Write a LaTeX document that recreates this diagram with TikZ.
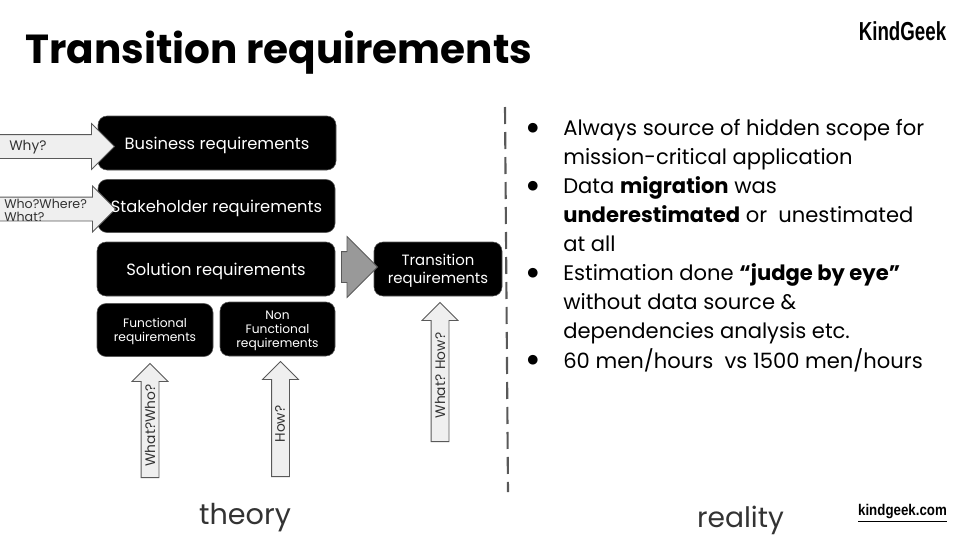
\documentclass[tikz,border=0pt]{standalone}
\usepackage{fontspec}
\setmainfont{Poppins}
\newfontfamily\bulletfont{DejaVu Sans}
\newfontfamily\logofont{Liberation Sans}
\usetikzlibrary{shapes.arrows}
\definecolor{arrowfill}{HTML}{EFEFEF}
\definecolor{arrowline}{HTML}{595959}
\definecolor{hinttext}{HTML}{333333}
\newcommand{\px}{0.025cm}

\begin{document}
\begin{tikzpicture}[
    x=\px, y=-\px,
    reqbox/.style={draw=arrowline, fill=black, rounded corners=9*\px, text=white,
                   align=center, inner sep=0pt, line width=0.4pt},
    boxtext/.style={text=white, align=center, inner sep=0pt},
    hintarrow/.style={single arrow, draw=arrowline, fill=arrowfill, inner xsep=0pt,
                      single arrow head indent=0pt, line width=0.6pt, anchor=tail},
    sidearrow/.style={hintarrow, inner ysep=11.5*\px, single arrow head extend=11*\px},
    uparrow/.style={hintarrow, rotate=90, inner ysep=8.5*\px, single arrow head extend=9*\px},
    hint/.style={text=hinttext, font=\fontsize{9.8}{10}\selectfont, inner sep=0pt},
    point/.style={anchor=north west, align=left, inner sep=0pt,
                  font=\fontsize{15}{20.6}\selectfont},
    dot/.style={font=\bulletfont\fontsize{9}{9}\selectfont, inner sep=0pt}
  ]
  \useasboundingbox (0,0) rectangle (960,540);

  % Title and logos
  \node[anchor=west, inner sep=0pt, font=\fontsize{28.85}{30}\selectfont\bfseries] (title) at (25,52.5) {Transition requirements};
  \node[inner sep=0pt, xscale=0.72, font=\logofont\fontsize{18.5}{20}\selectfont\bfseries] (logotop) at (902.5,31) {KindGeek};
  \node[inner sep=0pt, xscale=0.86, font=\logofont\fontsize{11}{12}\selectfont\bfseries] (logobottom) at (902.5,513) {\underline{kindgeek.com}};

  % Requirement boxes
  \node[reqbox, minimum width=238*\px, minimum height=54*\px] (business) at (217,143) {};
  \node[reqbox, minimum width=237*\px, minimum height=53*\px] (stakeholder) at (216.5,206) {};
  \node[reqbox, minimum width=238*\px, minimum height=54*\px] (solution) at (216,269) {};
  \node[reqbox, minimum width=116*\px, minimum height=53*\px] (functional) at (155,330) {};
  \node[reqbox, minimum width=115*\px, minimum height=54*\px] (nonfunctional) at (277.5,329) {};

  % Side arrows
  \node[sidearrow, minimum height=115*\px] (whyarrow) at (-1,146.5) {};
  \node[sidearrow, minimum height=116*\px] (whoarrow) at (-1,209) {};

  % Box texts
  \node[boxtext, font=\fontsize{11.6}{14}\selectfont] (businesstext) at (217,145) {Business requirements};
  \node[boxtext, font=\fontsize{11.6}{14}\selectfont] (stakeholdertext) at (216.5,208) {Stakeholder requirements};
  \node[boxtext, font=\fontsize{11.6}{14}\selectfont] (solutiontext) at (216,271) {Solution requirements};
  \node[boxtext, font=\fontsize{8.7}{10}\selectfont] (functionaltext) at (155,331) {Functional\\requirements};
  \node[boxtext, font=\fontsize{8.7}{10}\selectfont] (nonfunctionaltext) at (277.5,331) {Non\\Functional\\requirements};

  % Transition
  \node[reqbox, minimum width=128*\px, minimum height=54*\px] (transition) at (438,269) {};
  \node[hintarrow, fill=black!40, inner ysep=15*\px, minimum height=36*\px,
        single arrow head extend=15*\px] (gapreq) at (341,267) {};
  \node[boxtext, font=\fontsize{10.6}{13}\selectfont] (transitiontext) at (438,271) {Transition\\requirements};

  % Hints
  \node[hint, anchor=west] (why) at (9,147.5) {Why?};
  \node[hint, anchor=west, font=\fontsize{9}{10}\selectfont] (who) at (4,203.5) {Who?Where?};
  \node[hint, anchor=west, font=\fontsize{9}{10}\selectfont] (what) at (4,216.5) {What?};

  % Up arrows
  \node[uparrow, minimum height=114*\px] (whatarrow) at (150,478) {};
  \node[uparrow, minimum height=115*\px] (howarrow) at (280.5,477) {};
  \node[uparrow, minimum height=139*\px] (tranarrow) at (440,442) {};
  \node[hint, rotate=90] (whatwho) at (150,425.5) {What?Who?};
  \node[hint, rotate=90] (how) at (280,424) {How?};
  \node[hint, rotate=90] (whathow) at (440,375.5) {What? How?};

  % Divider
  \coordinate (divtop) at (505,107);
  \coordinate (divbottom) at (508,492);
  \draw[arrowline, line width=1.5pt, dash pattern=on 17*\px off 8*\px] (divtop) -- (divbottom);

  % Right column
  \node[dot] (dot1) at (533,128) {●};
  \node[dot] (dot2) at (533,186) {●};
  \node[dot] (dot3) at (533,273) {●};
  \node[dot] (dot4) at (533,360) {●};
  \node[point] (point1) at (563,119) {Always source of hidden scope for\\mission-critical application};
  \node[point] (point2) at (563,176) {Data \textbf{migration} was\\\textbf{underestimated} or~ unestimated\\at all};
  \node[point] (point3) at (563,263) {Estimation done \textbf{“judge by eye”}\\without data source \&\\dependencies analysis etc.};
  \node[point] (point4) at (563,348) {60 men/hours~ vs 1500 men/hours};

  % Captions
  \node[inner sep=0pt, text=hinttext, font=\fontsize{20.4}{24}\selectfont] (theory) at (245,518) {theory};
  \node[inner sep=0pt, text=hinttext, font=\fontsize{20}{24}\selectfont] (reality) at (740.5,520.5) {reality};
\end{tikzpicture}
\end{document}
